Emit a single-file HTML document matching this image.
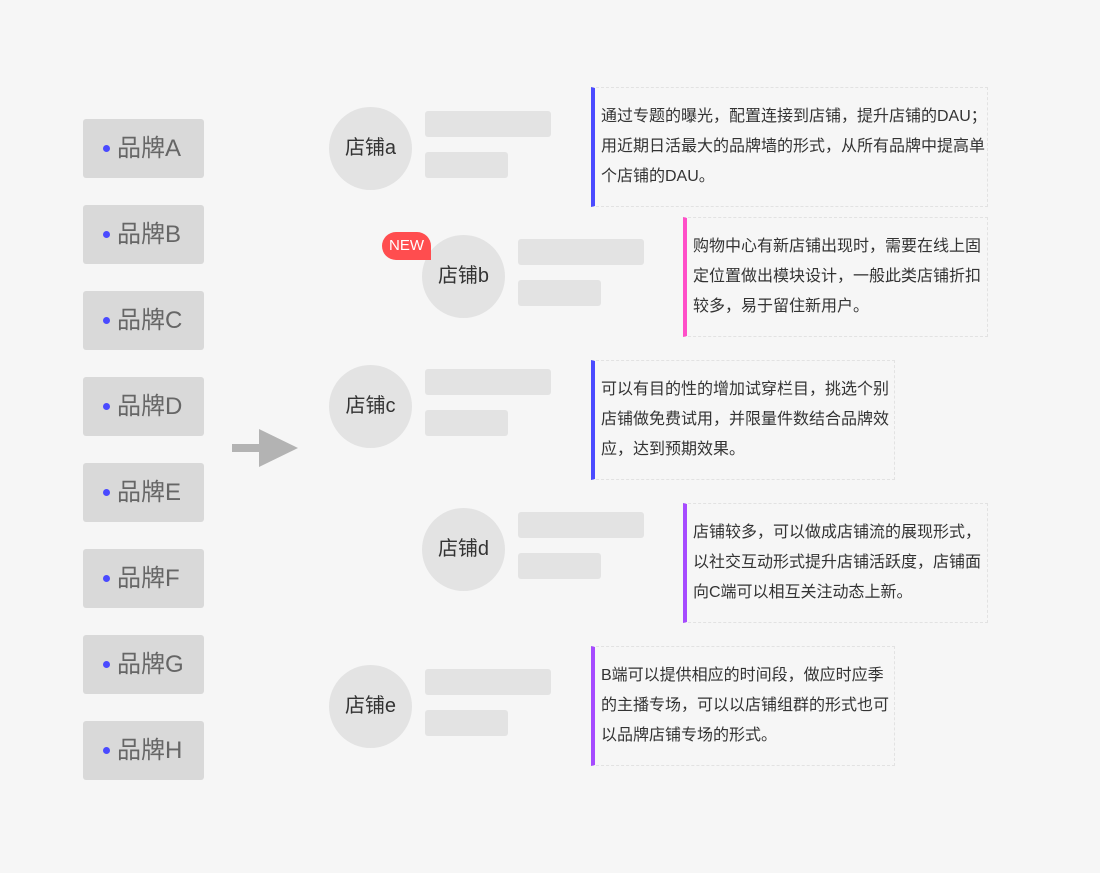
<!DOCTYPE html>
<html><head><meta charset="utf-8"><style>
body{margin:0;width:1100px;height:873px;background:#f6f6f6;position:relative;overflow:hidden;font-family:"Liberation Sans","Noto Sans CJK SC",sans-serif;}
.br{position:absolute;left:83px;width:121px;height:59px;background:#d9d9d9;border-radius:3px;color:#666;font-size:24px;line-height:59px;box-sizing:border-box;padding-left:34px;}
.br:before{content:"";position:absolute;left:20px;top:26px;width:7px;height:7px;border-radius:50%;background:#4a4aff;}
.c{position:absolute;width:83px;height:83px;border-radius:50%;background:#e3e3e3;color:#333;font-size:20px;line-height:83px;text-align:center;}
.bar{position:absolute;background:#e3e3e3;border-radius:3px;height:26px;}
.d{position:absolute;height:120px;box-sizing:border-box;border:1px dashed #e2e2e2;border-left:4px solid #4b4bff;padding:14px 0 0 6px;font-size:16px;line-height:30px;color:#333;}
.new{position:absolute;left:382px;top:232px;width:49px;height:28px;background:#ff4d4f;color:#fff;font-size:15px;line-height:28px;text-align:center;border-radius:14px 14px 0 14px;}
</style></head><body>
<div class="br" style="top:119px">品牌A</div>
<div class="br" style="top:205px">品牌B</div>
<div class="br" style="top:291px">品牌C</div>
<div class="br" style="top:377px">品牌D</div>
<div class="br" style="top:463px">品牌E</div>
<div class="br" style="top:549px">品牌F</div>
<div class="br" style="top:635px">品牌G</div>
<div class="br" style="top:721px">品牌H</div>
<svg style="position:absolute;left:0;top:0" width="1100" height="873"><rect x="232" y="444" width="30" height="8" fill="#b3b3b3"/><polygon points="259,429 298,448 259,467" fill="#b3b3b3"/></svg>

<div class="c" style="left:329px;top:107px">店铺a</div>
<div class="bar" style="left:425px;top:111px;width:126px"></div>
<div class="bar" style="left:425px;top:152px;width:83px"></div>
<div class="d" style="left:591px;top:87px;width:397px">通过专题的曝光，配置连接到店铺，提升店铺的DAU；<br>用近期日活最大的品牌墙的形式，从所有品牌中提高单<br>个店铺的DAU。</div>

<div class="c" style="left:422px;top:235px">店铺b</div>
<div class="new">NEW</div>
<div class="bar" style="left:518px;top:239px;width:126px"></div>
<div class="bar" style="left:518px;top:280px;width:83px"></div>
<div class="d" style="left:683px;top:217px;width:305px;border-left-color:#ff4fc8">购物中心有新店铺出现时，需要在线上固<br>定位置做出模块设计，一般此类店铺折扣<br>较多，易于留住新用户。</div>

<div class="c" style="left:329px;top:365px">店铺c</div>
<div class="bar" style="left:425px;top:369px;width:126px"></div>
<div class="bar" style="left:425px;top:410px;width:83px"></div>
<div class="d" style="left:591px;top:360px;width:304px">可以有目的性的增加试穿栏目，挑选个别<br>店铺做免费试用，并限量件数结合品牌效<br>应，达到预期效果。</div>

<div class="c" style="left:422px;top:508px">店铺d</div>
<div class="bar" style="left:518px;top:512px;width:126px"></div>
<div class="bar" style="left:518px;top:553px;width:83px"></div>
<div class="d" style="left:683px;top:503px;width:305px;border-left-color:#a64bff">店铺较多，可以做成店铺流的展现形式，<br>以社交互动形式提升店铺活跃度，店铺面<br>向C端可以相互关注动态上新。</div>

<div class="c" style="left:329px;top:665px">店铺e</div>
<div class="bar" style="left:425px;top:669px;width:126px"></div>
<div class="bar" style="left:425px;top:710px;width:83px"></div>
<div class="d" style="left:591px;top:646px;width:304px;border-left-color:#a64bff">B端可以提供相应的时间段，做应时应季<br>的主播专场，可以以店铺组群的形式也可<br>以品牌店铺专场的形式。</div>
</body></html>
